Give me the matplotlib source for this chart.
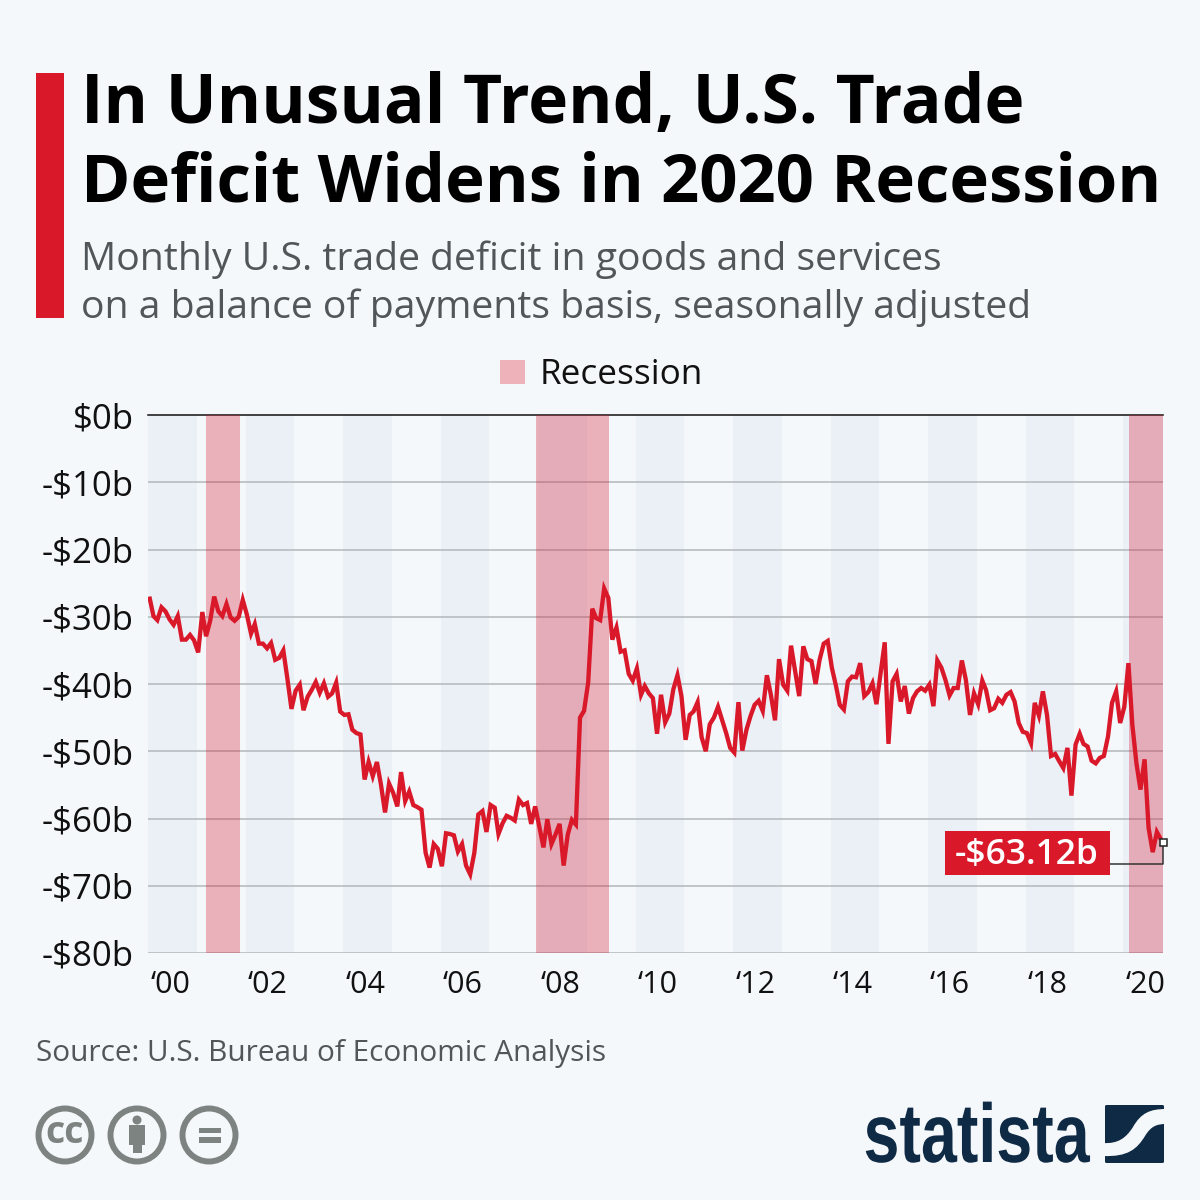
import matplotlib
matplotlib.use('Agg')
import matplotlib.pyplot as plt
import matplotlib.patches as patches
import matplotlib.patheffects as pe
from matplotlib.path import Path
from matplotlib.transforms import Affine2D
import pandas as pd

# monthly deficit in $b, Jan 2000 onwards
deficit = [
    -27.0, -29.9, -30.5, -28.6, -29.2, -30.4, -31.2, -29.9, -33.4, -33.4, -32.7, -33.5,
    -35.3, -29.3, -32.9, -30.6, -27.0, -29.2, -29.9, -28.1, -30.1, -30.6, -30.0, -27.5,
    -29.7, -32.5, -31.1, -34.0, -34.0, -34.7, -33.9, -36.4, -36.1, -35.0, -39.3, -43.7,
    -41.0, -40.1, -43.9, -41.9, -40.9, -39.7, -41.3, -39.9, -41.9, -41.4, -39.8, -44.1,
    -44.6, -44.5, -46.8, -47.3, -47.5, -54.2, -51.6, -53.7, -51.6, -54.9, -59.1, -54.8,
    -56.2, -58.2, -53.1, -57.4, -56.0, -58.0, -58.3, -58.7, -65.1, -67.3, -63.8, -64.5,
    -67.1, -62.2, -62.3, -62.5, -64.9, -63.8, -67.0, -68.3, -65.1, -59.4, -58.9, -62.0,
    -58.0, -58.4, -62.3, -60.7, -59.6, -59.9, -60.3, -57.2, -58.0, -57.7, -60.8, -58.2,
    -61.2, -64.3, -60.1, -63.8, -62.4, -60.8, -67.0, -62.4, -60.2, -60.9, -45.0, -44.0,
    -39.8, -28.8, -30.2, -30.5, -25.8, -27.2, -33.4, -31.6, -35.2, -35.0, -38.5, -39.5,
    -37.7, -41.6, -40.3, -41.4, -42.1, -47.4, -41.6, -45.7, -44.4, -40.8, -38.7, -41.8,
    -48.3, -44.6, -44.1, -42.7, -47.9, -50.0, -46.0, -45.0, -43.4, -45.3, -47.3, -49.5,
    -50.2, -42.7, -49.9, -46.8, -44.8, -43.1, -42.5, -44.0, -38.7, -41.6, -45.4, -36.3,
    -40.1, -41.0, -34.3, -38.1, -41.8, -34.4, -36.3, -36.6, -40.0, -36.4, -34.0, -33.6,
    -37.6, -40.3, -43.1, -43.8, -39.6, -38.9, -39.0, -36.9, -41.8, -41.2, -39.9, -43.0,
    -38.4, -33.8, -48.9, -39.6, -38.5, -42.6, -40.3, -44.4, -42.1, -41.1, -40.6, -41.0,
    -40.1, -43.3, -36.5, -37.6, -39.4, -41.7, -40.6, -40.6, -36.5, -39.4, -44.6, -41.4,
    -43.0, -39.5, -40.9, -43.9, -43.6, -42.2, -42.8, -41.6, -41.2, -42.6, -45.8, -47.1,
    -47.3, -48.8, -42.8, -44.7, -41.1, -44.6, -50.7, -50.4, -51.5, -52.5, -49.5, -56.6,
    -49.0, -47.4, -48.9, -49.3, -51.4, -51.8, -51.0, -50.7, -47.8, -42.8, -41.1, -45.8,
    -43.4, -36.9, -46.0, -51.8, -55.7, -51.2, -61.4, -65.0, -62.0, -63.1,
]
axis_end = pd.Timestamp('2020-10-27')
recessions = [('2001-03-10', '2001-11-20'), ('2007-12-20', '2009-06-13'), ('2020-02-12', '2020-10-27')]
even_years = list(range(2000, 2021, 2))
y_ticks = [0, -10, -20, -30, -40, -50, -60, -70, -80]
y_labels = ['$0b', '-$10b', '-$20b', '-$30b', '-$40b', '-$50b', '-$60b', '-$70b', '-$80b']

BG = '#f5f8fb'
RED = '#d9182a'
NAVY = '#0f2a44'
ICON = '#7c8380'
FONT = 'Open Sans'


class SqueezeX(pe.AbstractPathEffect):
    # narrows text horizontally, the logo face is condensed
    def __init__(self, sx):
        super().__init__()
        self.sx = sx

    def draw_path(self, renderer, gc, tpath, affine, rgbFace=None):
        renderer.draw_path(gc, tpath, Affine2D().scale(self.sx, 1) + affine, rgbFace)


dates = pd.date_range('2000-01-01', periods=len(deficit), freq='MS') + pd.Timedelta(days=10)

fig = plt.figure(figsize=(12, 12), dpi=100, facecolor=BG)
plt.rcParams['font.family'] = FONT

# chart area
ax = fig.add_axes([148 / 1200, 1 - 953 / 1200, (1163 - 148) / 1200, (953 - 415) / 1200])
ax.set_facecolor(BG)
for s in ax.spines.values():
    s.set_visible(False)

for yr in even_years:
    end = min(pd.Timestamp(f'{yr + 1}-01-01'), axis_end)
    ax.axvspan(pd.Timestamp(f'{yr}-01-01'), end, color='#ebf0f7', lw=0, zorder=1)

for y in y_ticks:
    if y == 0:
        ax.axhline(y, color='#111111', lw=1.1, zorder=2, clip_on=False)
    else:
        ax.axhline(y, color='#b2b7bb', lw=1.1, zorder=2)

for start, end in recessions:
    ax.axvspan(pd.Timestamp(start), pd.Timestamp(end), color='#d3152c', alpha=0.31, lw=0, zorder=3)

ax.plot(dates, deficit, color=RED, lw=3.1, zorder=4, solid_joinstyle='miter', solid_capstyle='butt')

ax.set_xlim(pd.Timestamp('2000-01-01'), axis_end)
ax.set_ylim(-80, 0)
ax.set_yticks(y_ticks)
ax.set_yticklabels(y_labels, fontsize=25, color='#111111')
ax.set_xticks([pd.Timestamp(f'{yr}-06-15') for yr in even_years])
ax.set_xticklabels([f'\u2018{str(yr)[2:]}' for yr in even_years], fontsize=22, color='#111111')
ax.tick_params(axis='both', length=0)
ax.tick_params(axis='y', pad=10.5)
ax.tick_params(axis='x', pad=12)

# overlay in pixel coordinates for header, legend, callout, footer
ov = fig.add_axes([0, 0, 1, 1], facecolor='none')
ov.set_xlim(0, 1200)
ov.set_ylim(1200, 0)
ov.axis('off')

ov.add_patch(patches.Rectangle((36, 73), 28, 245, color=RED, lw=0))
ov.text(81, 123.5, 'In Unusual Trend, U.S. Trade', fontsize=48.7, fontweight='bold', color='#000000', va='baseline', ha='left')
ov.text(81, 202, 'Deficit Widens in 2020 Recession', fontsize=48.25, fontweight='bold', color='#000000', va='baseline', ha='left')
ov.text(81, 260, 'Monthly U.S. trade deficit in goods and services', fontsize=28.2, color='#51565a', va='center', ha='left')
ov.text(81, 308, 'on a balance of payments basis, seasonally adjusted', fontsize=28.2, color='#51565a', va='center', ha='left')

ov.add_patch(patches.Rectangle((500, 360), 25, 24, color='#edb2ba', lw=0))
ov.text(540, 374.5, 'Recession', fontsize=25.3, color='#111111', va='center', ha='left')

# callout
ov.plot([1108, 1163, 1163], [864, 864, 842], color='#333333', lw=1.1, zorder=5)
ov.add_patch(patches.Rectangle((1159.5, 838.5), 7, 7, fc='white', ec='#222222', lw=1.1, zorder=6))
ov.add_patch(patches.Rectangle((945, 831), 165, 44, color=RED, lw=0, zorder=6))
ov.text(1027, 855, '-$63.12b', fontsize=25.5, fontweight='semibold', color='white', va='center', ha='center', zorder=7)

ov.text(36, 1054, 'Source: U.S. Bureau of Economic Analysis', fontsize=21.4, color='#51565a', va='center', ha='left')

# cc icons
for cx in [65, 137, 209]:
    ov.add_patch(patches.Circle((cx, 1135), 26.5, fc='none', ec=ICON, lw=4.3))
ov.text(65, 1133, 'cc', fontsize=27, fontweight='bold', color=ICON, va='center', ha='center')
ov.add_patch(patches.Circle((137, 1120), 4.5, color=ICON, lw=0))
ov.add_patch(patches.Rectangle((129, 1125), 16, 20, color=ICON, lw=0))
ov.add_patch(patches.Rectangle((132.5, 1140), 9, 13, color=ICON, lw=0))
ov.add_patch(patches.Rectangle((199, 1127.5), 22, 5.5, color=ICON, lw=0))
ov.add_patch(patches.Rectangle((199, 1137), 22, 5.5, color=ICON, lw=0))

# statista logo
ov.text(863.5, 1162, 'statista', fontsize=60, fontweight='bold', family='Liberation Sans', color=NAVY,
        va='baseline', ha='left', path_effects=[SqueezeX(0.775)])
ov.add_patch(patches.FancyBboxPatch((1105, 1105), 59, 58, boxstyle='round,pad=0,rounding_size=1.5', color=NAVY, lw=0))
swoosh = Path(
    [(1103, 1143), (1118, 1144), (1126, 1138), (1133, 1127), (1141, 1113), (1150, 1109), (1166, 1109),
     (1166, 1124), (1157, 1124), (1151, 1126), (1145, 1136), (1137, 1149), (1128, 1157), (1103, 1156), (1103, 1143)],
    [Path.MOVETO, Path.CURVE4, Path.CURVE4, Path.CURVE4, Path.CURVE4, Path.CURVE4, Path.CURVE4,
     Path.LINETO, Path.CURVE4, Path.CURVE4, Path.CURVE4, Path.CURVE4, Path.CURVE4, Path.CURVE4, Path.CLOSEPOLY])
ov.add_patch(patches.PathPatch(swoosh, fc=BG, ec='none'))

fig.savefig('out.png', dpi=100, facecolor=BG)
